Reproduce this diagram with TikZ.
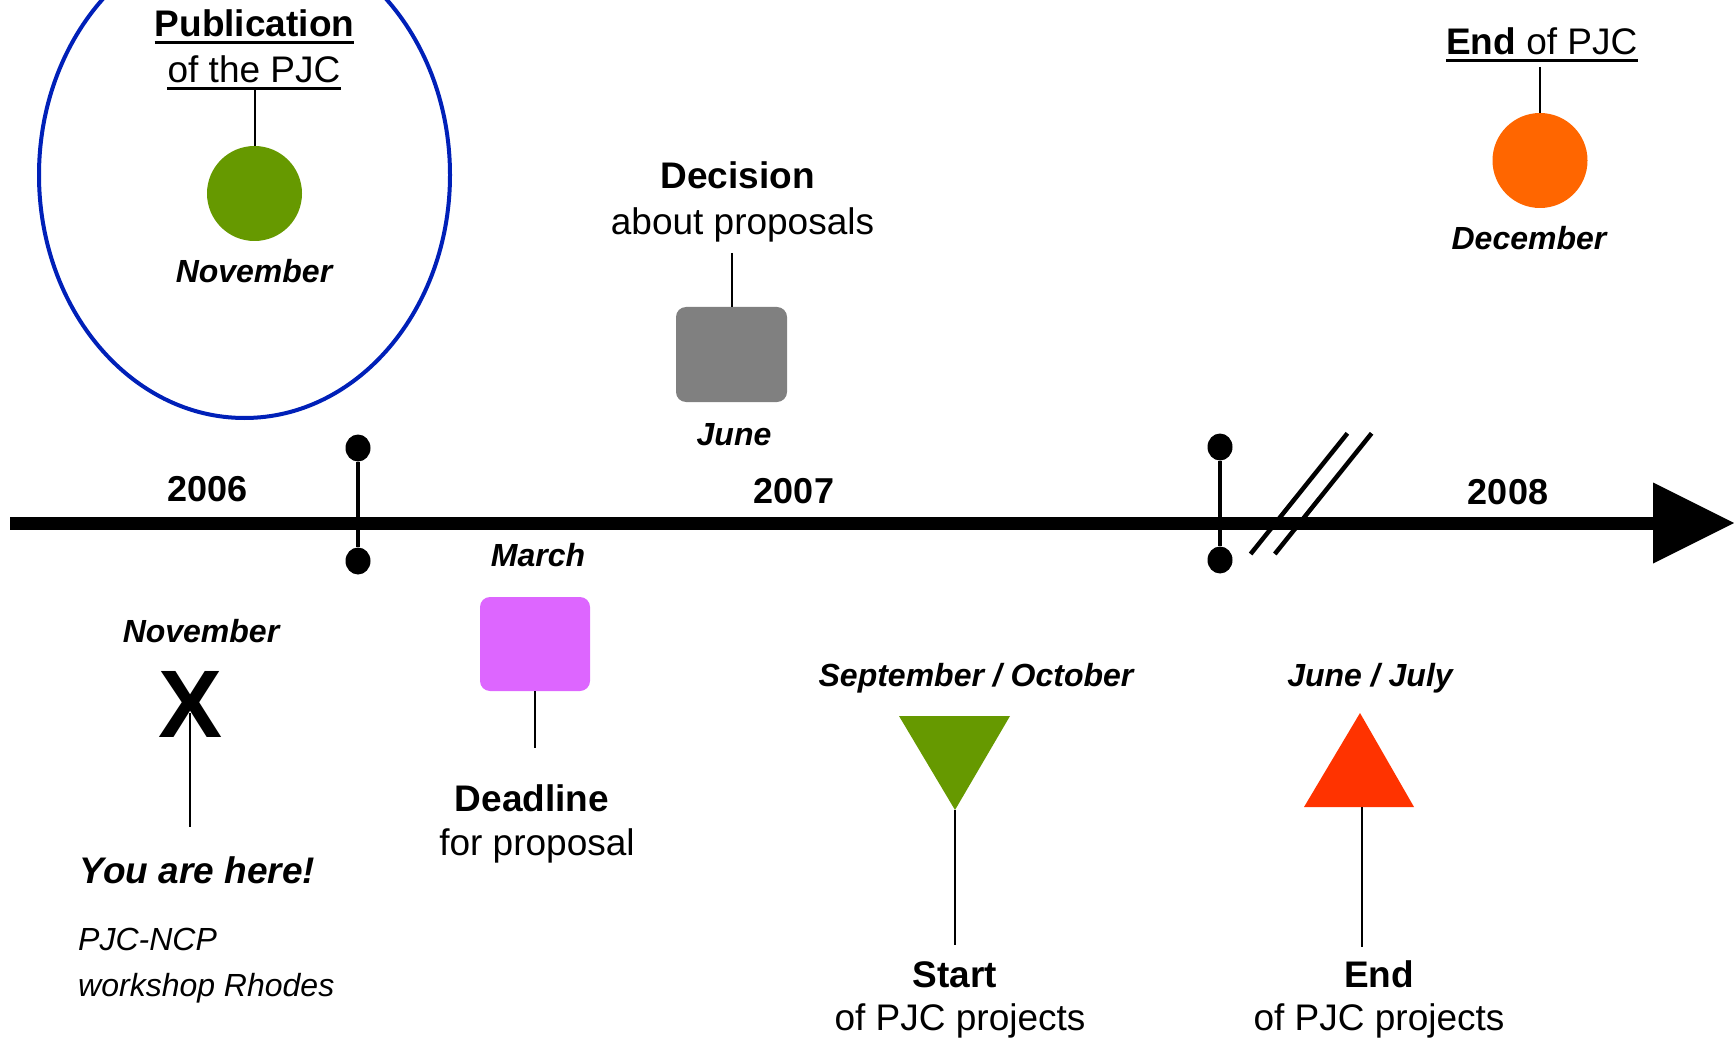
\documentclass[tikz,border=0pt]{standalone}
\usepackage{fontspec}
\setmainfont{Liberation Sans}
\usetikzlibrary{shapes.geometric}
\definecolor{ellblue}{RGB}{0,32,184}
\definecolor{pubgreen}{RGB}{102,153,0}
\definecolor{decgray}{RGB}{128,128,128}
\definecolor{pjcorange}{RGB}{255,102,0}
\definecolor{deadpurple}{RGB}{221,102,255}
\definecolor{endred}{RGB}{255,51,0}
\tikzset{
  lbl/.style={inner sep=0pt, anchor=base, font=\fontsize{37}{44}\selectfont},
  lblb/.style={inner sep=0pt, anchor=base, font=\fontsize{37}{44}\selectfont\bfseries},
  lblbi/.style={inner sep=0pt, anchor=base, font=\fontsize{37}{44}\selectfont\bfseries\itshape},
  mon/.style={inner sep=0pt, anchor=base, font=\fontsize{32}{38}\selectfont\bfseries\itshape},
  note/.style={inner sep=0pt, anchor=base west, font=\fontsize{32}{38}\selectfont\itshape},
  yr/.style={inner sep=0pt, anchor=base, font=\fontsize{36}{42}\selectfont\bfseries},
  conn/.style={line width=2pt},
  uline/.style={line width=3pt},
  tickdot/.style={ellipse, fill=black, minimum width=25pt, minimum height=27pt, inner sep=0pt},
  tickline/.style={line width=4.5pt},
  dot/.style={circle, inner sep=0pt, minimum size=95pt},
  sqbox/.style={rectangle, rounded corners=10pt, inner sep=0pt},
}
\begin{document}
\begin{tikzpicture}[x=1pt,y=-1pt]
\useasboundingbox (0,0) rectangle (1734,1040);

% Publication (circled)
\draw[ellblue, line width=4pt] (244.5,175) ellipse [x radius=205.5pt, y radius=243pt];
\node[lblb] (pub1) at (254.5,37) {Publication};
\node[lbl] (pub2) at (254,83) {of the PJC};
\draw[uline] ([yshift=-6pt]pub1.base west) -- ([yshift=-6pt]pub1.base east);
\draw[uline] ([yshift=-6pt]pub2.base west) -- ([yshift=-6pt]pub2.base east);
\node[dot, fill=pubgreen] (pubdot) at (254.5,193.5) {};
\coordinate (pubc) at (254.5,90);
\draw[conn] (pubc) -- (pubdot.north);
\node[mon] (pubmon) at (254,283) {November};

% Decision
\node[lblb] (dec1) at (737.5,189) {Decision};
\node[lbl] (dec2) at (742.5,235) {about proposals};
\node[sqbox, fill=decgray, minimum width=111pt, minimum height=95pt] (decbox) at (731.5,354.5) {};
\coordinate (decc) at (731.5,253);
\draw[conn] (decc) -- (decbox.north);
\node[mon] (decmon) at (734,445) {June};

% End of PJC
\node[lbl] (endp) at (1541.7,55) {{\bfseries End} of PJC};
\draw[uline] ([yshift=-6pt]endp.base west) -- ([yshift=-6pt]endp.base east);
\node[dot, fill=pjcorange] (enddot) at (1540,160.5) {};
\coordinate (endc) at (1540,67);
\draw[conn] (endc) -- (enddot.north);
\node[mon] (endmon) at (1529,250) {December};

% Axis
\coordinate (axL) at (10,523);
\coordinate (axR) at (1654,523);
\draw[line width=13pt] (axL) -- (axR);
\coordinate (arT) at (1653,482.5);
\coordinate (arTip) at (1734,523);
\coordinate (arB) at (1653,563.5);
\fill (arT) -- (arTip) -- (arB) -- cycle;

\node[yr] (y2006) at (207.5,501) {2006};
\node[yr] (y2007) at (794,503) {2007};
\node[yr] (y2008) at (1508,504) {2008};

% Ticks
\node[tickdot] (t1a) at (358,448) {};
\node[tickdot] (t1b) at (358,561) {};
\draw[tickline] (t1a) -- (t1b);
\node[tickdot] (t2a) at (1220,447) {};
\node[tickdot] (t2b) at (1220,560) {};
\draw[tickline] (t2a) -- (t2b);

% Break slashes
\coordinate (s1a) at (1250.6,554);
\coordinate (s1b) at (1347.4,433.3);
\coordinate (s2a) at (1274.8,554);
\coordinate (s2b) at (1371.6,433.3);
\draw[tickline] (s1a) -- (s1b);
\draw[tickline] (s2a) -- (s2b);

% You are here
\node[mon] (hmon) at (201,642) {November};
\node[inner sep=0pt, anchor=base, font=\fontsize{96}{100}\selectfont\bfseries] (xmark) at (190.5,737) {X};
\coordinate (xc) at (190,713);
\coordinate (herec) at (190,827);
\draw[conn] (xc) -- (herec);
\node[lblbi] (here) at (197.5,883) {You are here!};
\node[note] (ws1) at (78,950) {PJC-NCP};
\node[note] (ws2) at (78,996) {workshop Rhodes};

% Deadline
\node[mon] (deadmon) at (538,566) {March};
\node[sqbox, fill=deadpurple, minimum width=110pt, minimum height=94pt] (deadbox) at (535,644) {};
\coordinate (deadc) at (535,748);
\draw[conn] (deadbox.south) -- (deadc);
\node[lblb] (dead1) at (532,811.7) {Deadline};
\node[lbl] (dead2) at (537,855) {for proposal};

% Start of PJC projects
\node[mon] (stmon) at (976,686) {September / October};
\coordinate (stA) at (899,716);
\coordinate (stB) at (1010,716);
\coordinate (stT) at (955,810);
\fill[pubgreen] (stA) -- (stB) -- (stT) -- cycle;
\coordinate (stc) at (955,945);
\draw[conn] (stT) -- (stc);
\node[lblb] (st1) at (955,987) {Start};
\node[lbl] (st2) at (960,1030) {of PJC projects};

% End of PJC projects
\node[mon] (enmon) at (1370,686) {June / July};
\coordinate (enT) at (1360,713);
\coordinate (enL) at (1304,807);
\coordinate (enR) at (1414,807);
\fill[endred] (enT) -- (enR) -- (enL) -- cycle;
\coordinate (enb) at (1362,807);
\coordinate (enc) at (1362,947);
\draw[conn] (enb) -- (enc);
\node[lblb] (en1) at (1379,987) {End};
\node[lbl] (en2) at (1379,1030) {of PJC projects};
\end{tikzpicture}
\end{document}
